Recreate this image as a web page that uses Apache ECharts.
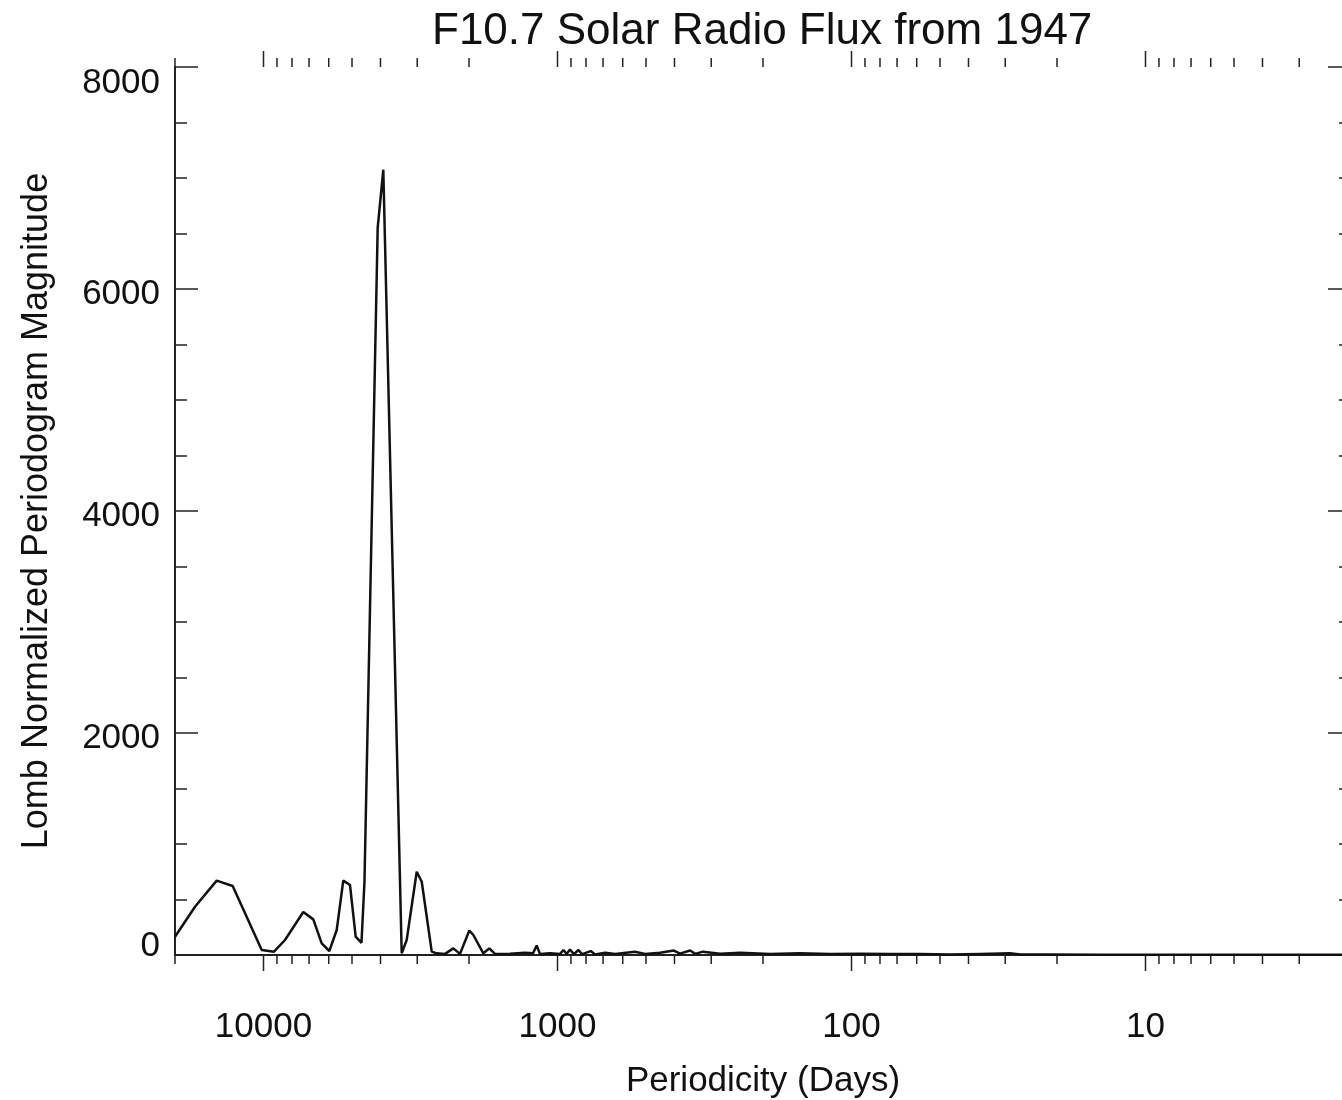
<!DOCTYPE html>
<html>
<head>
<meta charset="utf-8">
<script src="https://cdn.jsdelivr.net/npm/echarts@6/dist/echarts.min.js"></script>
<style>
  html, body { margin: 0; padding: 0; background: #fff; }
  #chart { width: 1342px; height: 1100px; }
</style>
</head>
<body>
<div id="chart"></div>
<script>
// ---- Data ----
const periodDays = [
  20000, 17100, 14430, 12730, 10140, 9211, 8451, 7322, 6770, 6339,
  5972, 5636, 5354, 5079, 4858, 4642, 4535, 4089, 3913, 3388,
  3258, 3012, 2896, 2678, 2576, 2413, 2261, 2146, 1995, 1933,
  1788, 1706, 1632, 1451, 1290, 1211, 1177, 1147, 1060, 980,
  955, 931, 907, 879, 849, 825, 771, 745, 689, 637,
  545, 504, 448, 402, 383, 354, 340, 320, 280, 239,
  189, 150, 118, 93.6, 74, 58.5, 46.2, 36.5, 28.9, 26.7,
  21.1, 14.3, 9.66, 6.53, 4.41, 2.98, 2
];
const magnitude = [
  165, 435, 670, 622, 45, 30, 135, 387, 321, 105,
  36, 225, 670, 630, 165, 110, 660, 6550, 7075, 15,
  135, 750, 660, 30, 15, 10, 60, 10, 220, 180,
  15, 60, 10, 12, 20, 15, 85, 8, 15, 10,
  45, 10, 50, 8, 45, 8, 35, 5, 20, 8,
  30, 10, 20, 40, 12, 40, 10, 30, 12, 20,
  10, 15, 8, 12, 8, 10, 5, 10, 15, 5,
  5, 3, 2, 2, 2, 2, 2
];
const xMajorTicks = [10, 100, 1000, 10000];
const xMinorTicks = [
  2, 3, 4, 5, 6, 7, 8, 9,
  20, 30, 40, 50, 60, 70, 80, 90,
  200, 300, 400, 500, 600, 700, 800, 900,
  2000, 3000, 4000, 5000, 6000, 7000, 8000, 9000,
  20000
];
const yTickLabels = [0, 2000, 4000, 6000, 8000];

const titleText = 'F10.7 Solar Radio Flux from 1947';
const xName = 'Periodicity (Days)';
const yName = 'Lomb Normalized Periodogram Magnitude';

// ---- Build chart ----
const FONT = 'Liberation Sans';
const INK = '#111';
const AXIS = '#222';

const lineData = periodDays.map((p, i) => [p, magnitude[i]]);
const tickData = xMajorTicks.map(v => [v, 1]).concat(xMinorTicks.map(v => [v, 0]));

function isPow10(v) {
  const l = Math.log10(v);
  return Math.abs(l - Math.round(l)) < 1e-6;
}

const xBase = {
  type: 'log',
  logBase: 10,
  inverse: true,
  min: 2,
  max: 20000,
  splitLine: { show: false },
  axisTick: { show: false },
  minorTick: { show: false },
  axisLine: { show: true, lineStyle: { color: AXIS, width: 2 } }
};

const yBase = {
  type: 'value',
  min: 0,
  max: 8000,
  interval: 2000,
  splitLine: { show: false },
  axisLine: { show: false },
  axisTick: { show: false },
  minorTick: { show: false }
};

const labelBase = { show: true, margin: 15, fontFamily: FONT, fontSize: 35, color: INK };

const option = {
  animation: false,
  backgroundColor: '#fff',
  title: {
    text: titleText,
    left: 432,
    top: 10,
    padding: 0,
    textStyle: { fontFamily: FONT, fontSize: 44, fontWeight: 'normal', color: INK }
  },
  grid: { left: 175, top: 67, right: -9, bottom: 145, containLabel: false, outerBoundsMode: 'none' },
  xAxis: [
    Object.assign({}, xBase, {
      position: 'bottom',
      name: xName,
      nameLocation: 'middle',
      nameGap: 109,
      nameTextStyle: { fontFamily: FONT, fontSize: 35, color: INK },
      axisLabel: {
        show: true,
        margin: 55,
        fontFamily: FONT, fontSize: 35, color: INK,
        showMinLabel: true, showMaxLabel: true,
        formatter: v => (isPow10(v) ? String(Math.round(v)) : '')
      }
    }),
    Object.assign({}, xBase, {
      position: 'top',
      axisLabel: { show: false }
    })
  ],
  yAxis: [
    Object.assign({}, yBase, {
      position: 'left',
      name: yName,
      nameLocation: 'middle',
      nameRotate: 90,
      nameGap: 120,
      nameTextStyle: { fontFamily: FONT, fontSize: 36, color: INK },
      axisLine: { show: true, lineStyle: { color: AXIS, width: 2 } },
      axisTick: { show: true, inside: true, length: 23, lineStyle: { color: AXIS, width: 1.5 } },
      minorTick: { show: true, splitNumber: 4, length: 12, lineStyle: { color: AXIS, width: 1.5 } },
      axisLabel: Object.assign({}, labelBase, {
        verticalAlign: 'top',
        lineHeight: 10,
        formatter: v => (v === yTickLabels[1] || v === yTickLabels[2] || v === yTickLabels[3] ? String(v) : '')
      })
    }),
    Object.assign({}, yBase, {
      position: 'left',
      axisLabel: Object.assign({}, labelBase, {
        verticalAlign: 'top',
        lineHeight: 32,
        formatter: v => (v === yTickLabels[4] ? String(v) : '')
      })
    }),
    Object.assign({}, yBase, {
      position: 'left',
      axisLabel: Object.assign({}, labelBase, {
        verticalAlign: 'bottom',
        lineHeight: 18,
        formatter: v => (v === yTickLabels[0] ? String(v) : '')
      })
    }),
    Object.assign({}, yBase, {
      position: 'right',
      axisLine: { show: true, lineStyle: { color: AXIS, width: 2 } },
      axisTick: { show: true, inside: true, length: 23, lineStyle: { color: AXIS, width: 1.5 } },
      minorTick: { show: true, splitNumber: 4, length: 12, lineStyle: { color: AXIS, width: 1.5 } },
      axisLabel: { show: false }
    })
  ],
  series: [
    {
      type: 'line',
      xAxisIndex: 0,
      yAxisIndex: 0,
      data: lineData,
      showSymbol: false,
      symbol: 'none',
      lineStyle: { color: INK, width: 2.5 },
      silent: true
    },
    {
      type: 'custom',
      xAxisIndex: 0,
      yAxisIndex: 0,
      data: tickData,
      encode: { x: 0, y: 1 },
      clip: false,
      silent: true,
      renderItem: function (params, api) {
        const v = api.value(0);
        const major = api.value(1) === 1;
        const p = api.coord([v, 0]);
        const cs = params.coordSys;
        const len = major ? 16 : 9;
        const yb = cs.y + cs.height;
        const yt = cs.y;
        const st = { stroke: AXIS, lineWidth: 1.5 };
        return {
          type: 'group',
          children: [
            { type: 'line', shape: { x1: p[0], y1: yb, x2: p[0], y2: yb + len }, style: st },
            { type: 'line', shape: { x1: p[0], y1: yt, x2: p[0], y2: yt - len }, style: st }
          ]
        };
      }
    }
  ]
};

const chart = echarts.init(document.getElementById('chart'), null, { renderer: 'canvas' });
chart.setOption(option);
</script>
</body>
</html>
